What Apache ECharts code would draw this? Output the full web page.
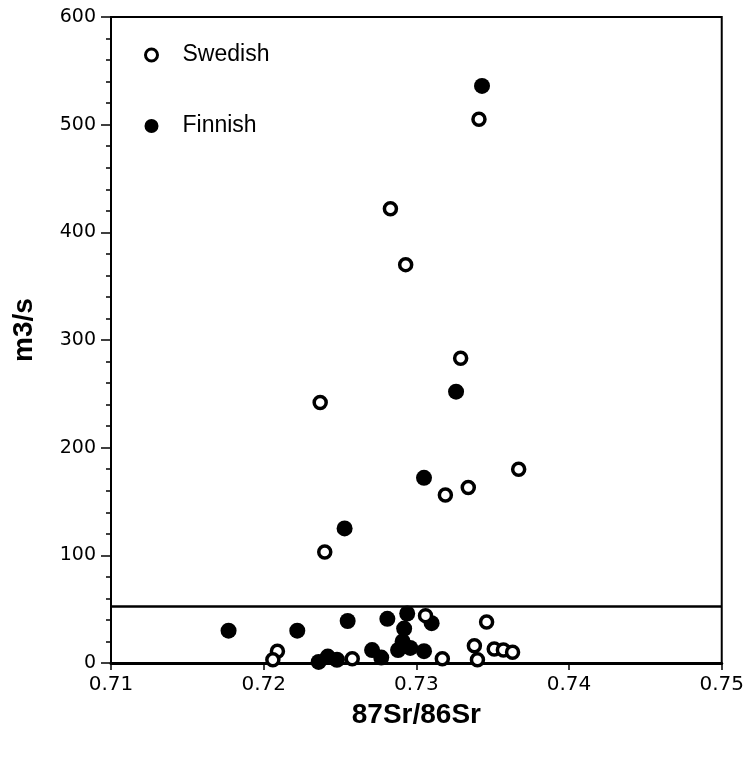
<!DOCTYPE html>
<html>
<head>
<meta charset="utf-8">
<script src="https://cdn.jsdelivr.net/npm/echarts@6/dist/echarts.min.js"></script>
<style>
html,body{margin:0;padding:0;background:#fff;}
#chart{width:747px;height:757px;}
</style>
</head>
<body>
<div id="chart"></div>
<script>
// 87Sr/86Sr ratio vs discharge (m3/s)
const swedishX = [0.7341,0.7283,0.7293,0.7329,0.7237,0.7367,0.7334,0.7319,0.7240,0.7209,0.7206,0.7258,0.7306,0.7346,0.7338,0.7340,0.7351,0.7357,0.7363,0.7317];
const swedishY = [505,422,370,283,242,180,163,156,103,11,3,4,44,38,16,3,13,12,10,4];
const finnishX = [0.7343,0.7326,0.7305,0.7253,0.7177,0.7222,0.7255,0.7281,0.7294,0.7292,0.7291,0.7288,0.7296,0.7305,0.7310,0.7236,0.7242,0.7248,0.7271,0.7277];
const finnishY = [536,252,172,125,30,30,39,41,46,32,20,12,14,11,37,1,6,3,12,5];
const xTicks = [0.71,0.72,0.73,0.74,0.75];
const yTicks = [0,100,200,300,400,500,600];
const thresholdLine = 53;

const pair = (xs, ys) => xs.map((x, i) => [x, ys[i]]);

const chart = echarts.init(document.getElementById('chart'), null, {renderer:'canvas'});
chart.setOption({
  animation:false,
  backgroundColor:'#fff',
  textStyle:{fontFamily:'DejaVu Sans', color:'#000'},
  grid:{left:111, right:24, top:17, bottom:94, show:true, borderColor:'#000', borderWidth:2, backgroundColor:'transparent'},
  legend:{
    orient:'vertical', left:139, top:37, itemGap:45, itemWidth:12, itemHeight:12,
    icon:'circle',
    textStyle:{fontFamily:'Liberation Sans', fontSize:23, color:'#000', lineHeight:26, padding:[0,0,0,20]},
    data:[
      {name:'Swedish', itemStyle:{color:'#fff', borderColor:'#000', borderWidth:3}},
      {name:'Finnish', itemStyle:{color:'#000', borderColor:'#000', borderWidth:2}}
    ]
  },
  xAxis:{
    type:'value', min:xTicks[0], max:xTicks[xTicks.length-1], interval:0.01,
    name:'87Sr/86Sr', nameLocation:'middle', nameGap:38,
    nameTextStyle:{fontFamily:'Liberation Sans', fontWeight:'bold', fontSize:28, color:'#000'},
    axisLine:{show:true, onZero:false, lineStyle:{color:'#000', width:3}},
    axisTick:{show:true, length:7, lineStyle:{color:'#000', width:1.5}},
    axisLabel:{fontFamily:'DejaVu Sans', fontSize:20, color:'#000', margin:12, formatter:v=>v.toFixed(2)},
    splitLine:{show:false}
  },
  yAxis:{
    type:'value', min:yTicks[0], max:yTicks[yTicks.length-1], interval:100,
    name:'m3/s', nameLocation:'middle', nameGap:73, nameRotate:90,
    nameTextStyle:{fontFamily:'Liberation Sans', fontWeight:'bold', fontSize:28, color:'#000', padding:[0,0,0,20]},
    axisLine:{show:true, lineStyle:{color:'#000', width:2}},
    axisTick:{show:true, length:10, lineStyle:{color:'#000', width:1.5}},
    minorTick:{show:true, splitNumber:5, length:5, lineStyle:{color:'#000', width:1.5}},
    axisLabel:{fontFamily:'DejaVu Sans', fontSize:19, color:'#000', margin:15},
    splitLine:{show:false}
  },
  series:[
    {
      name:'Finnish', type:'scatter', symbol:'circle', symbolSize:16,
      itemStyle:{color:'#000', opacity:1},
      data:pair(finnishX, finnishY),
      markLine:{
        silent:true, symbol:['none','none'], label:{show:false},
        lineStyle:{color:'#000', width:2.5, type:'solid'},
        data:[{yAxis:thresholdLine}]
      }
    },
    {
      name:'Swedish', type:'scatter', symbol:'circle', symbolSize:12,
      itemStyle:{color:'#fff', borderColor:'#000', borderWidth:3.5, opacity:1},
      data:pair(swedishX, swedishY)
    }
  ]
});
</script>
</body>
</html>
